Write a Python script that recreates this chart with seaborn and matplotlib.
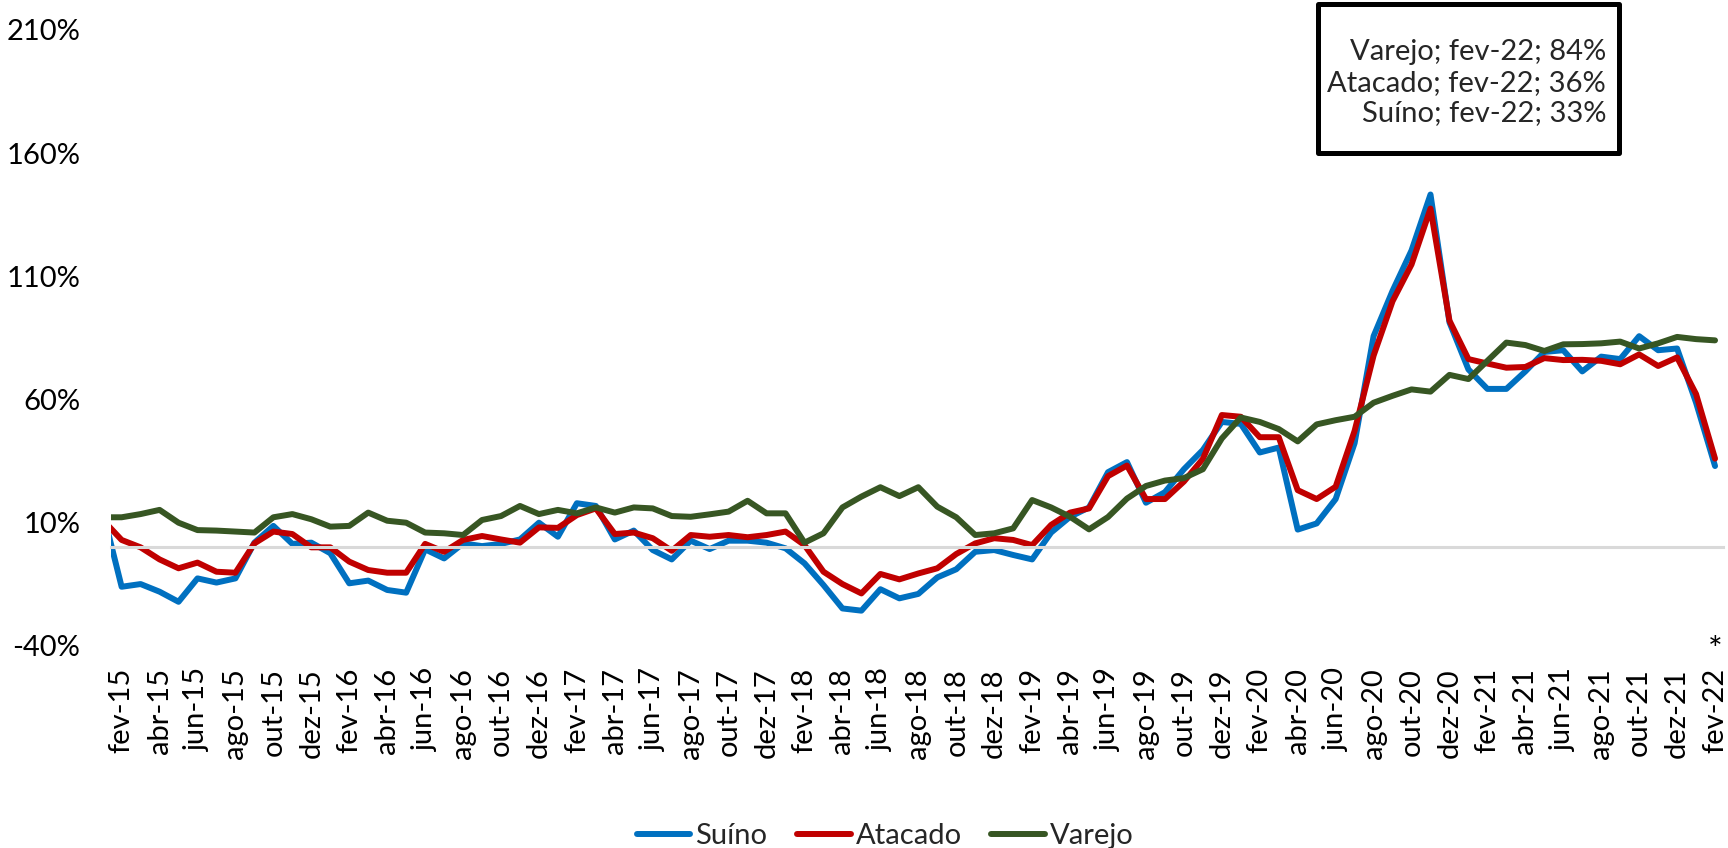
import matplotlib
matplotlib.use("Agg")
import matplotlib.pyplot as plt
import matplotlib.patches as mpatches
import seaborn as sns
import pandas as pd
import numpy as np

# meses de jan-15 a fev-22 (jan-15 fica cortado na borda esquerda, como no original)
meses = ["jan", "fev", "mar", "abr", "mai", "jun", "jul", "ago", "set", "out", "nov", "dez"]
anos = [15, 16, 17, 18, 19, 20, 21, 22]
periodos = [f"{m}-{a}" for a in anos for m in meses][:86]

suino = [14.9, -16.0, -14.9, -18.0, -22.1, -12.6, -14.3, -12.6, 1.9, 8.7, 1.4, 1.9, -2.4,
         -14.6, -13.5, -17.3, -18.4, -0.8, -4.5, 1.6, 0.5, 1.4, 3.2, 10.0, 4.3,
         17.9, 16.8, 3.2, 6.8, -1.1, -4.9, 2.7, -0.7, 2.7, 2.7, 1.9, -0.4,
         -6.5, -15.3, -24.8, -25.7, -17.0, -20.7, -18.9, -12.2, -8.9, -1.8, -1.1, -3.1,
         -4.9, 6.0, 12.4, 16.2, 30.5, 34.6, 18.1, 22.4, 31.7, 39.5, 50.9, 50.1,
         38.5, 40.5, 7.2, 9.7, 19.6, 42.3, 85.7, 104.1, 120.5, 143.2, 91.3, 72.2,
         64.3, 64.3, 71.4, 79.3, 80.0, 71.4, 77.4, 76.4, 85.7, 80.0, 80.7, 58.7,
         33.0]
atacado = [11.2, 3.0, 0.0, -4.9, -8.5, -6.2, -9.9, -10.3, 1.6, 6.4, 5.4, 0.0, 0.0,
           -5.8, -9.2, -10.3, -10.3, 1.4, -1.8, 3.0, 4.6, 3.2, 1.9, 8.1, 7.9,
           13.1, 15.8, 5.4, 6.0, 3.7, -1.4, 5.0, 4.3, 5.0, 4.1, 5.0, 6.4,
           0.9, -9.9, -14.9, -18.7, -10.8, -13.0, -10.6, -8.5, -2.7, 1.6, 3.7, 3.0,
           0.9, 9.1, 14.1, 15.8, 28.9, 33.2, 19.6, 19.6, 26.7, 35.9, 53.7, 53.0,
           44.7, 44.7, 23.2, 19.6, 24.6, 47.3, 77.8, 99.9, 114.8, 137.5, 92.0, 76.4,
           74.6, 72.9, 73.2, 76.8, 76.0, 76.1, 75.7, 74.3, 78.3, 73.6, 77.1, 62.2,
           36.0]
varejo = [12.2, 12.2, 13.5, 15.2, 10.0, 7.0, 6.8, 6.4, 6.0, 12.2, 13.5, 11.4, 8.4,
          8.7, 14.1, 10.8, 10.0, 6.0, 5.7, 5.0, 11.1, 12.7, 16.8, 13.5, 15.2,
          13.8, 16.2, 14.1, 16.2, 15.8, 12.7, 12.4, 13.4, 14.5, 18.9, 13.8, 13.8,
          1.9, 5.7, 16.2, 20.6, 24.4, 20.8, 24.4, 16.5, 12.2, 5.0, 5.7, 7.7,
          19.2, 16.2, 12.4, 7.3, 12.3, 19.8, 24.9, 27.1, 28.1, 31.7, 44.2, 52.7,
          50.9, 48.0, 43.0, 49.9, 51.6, 53.0, 58.7, 61.5, 64.1, 63.2, 70.0, 68.3,
          75.7, 83.1, 82.1, 79.7, 82.4, 82.5, 82.8, 83.5, 80.7, 82.8, 85.4, 84.5,
          84.0]

series = ["Suíno", "Atacado", "Varejo"]
cores = {"Suíno": "#0070C0", "Atacado": "#C00000", "Varejo": "#375623"}
y_ticks = [-40, 10, 60, 110, 160, 210]

pos = np.arange(len(periodos))
df = pd.DataFrame({
    "pos": np.tile(pos, 3),
    "periodo": periodos * 3,
    "valor": suino + atacado + varejo,
    "serie": np.repeat(series, len(periodos)),
})

sns.set_style("white")
plt.rcParams["font.family"] = ["Lato", "DejaVu Sans"]
FS = 21

fig = plt.figure(figsize=(17.28, 8.48), dpi=100)
ax = fig.add_axes([111 / 1728, 1 - 645.9 / 848, (1723 - 111) / 1728, 616 / 848])

sns.lineplot(data=df, x="pos", y="valor", hue="serie", hue_order=series,
             palette=cores, estimator=None, linewidth=4.3, ax=ax, legend=True)
for ln in ax.lines:
    ln.set_solid_capstyle("round")
    ln.set_solid_joinstyle("round")

ax.set_xlim(0.44, 85.42)
ax.set_ylim(-40, 210)
ax.set_xlabel("")
ax.set_ylabel("")

# eixo horizontal cruzando em 0
for s in ["left", "right", "top"]:
    ax.spines[s].set_visible(False)
ax.spines["bottom"].set_position(("data", 0))
ax.spines["bottom"].set_color("#D9D9D9")
ax.spines["bottom"].set_linewidth(2.2)

rotulos_pos = pos[1::2]
ax.set_xticks(rotulos_pos - 0.5)
ax.tick_params(axis="x", which="major", length=7.5, width=2.2, color="#D9D9D9",
               direction="out", labelbottom=False)
for p in rotulos_pos:
    ax.text(p, -0.036, periodos[p], transform=ax.get_xaxis_transform(),
            rotation=90, ha="center", va="top", fontsize=FS, color="black")
ax.text(rotulos_pos[-1], -0.034, "*", transform=ax.get_xaxis_transform(),
        ha="center", va="bottom", fontsize=FS + 4, color="black")

ax.set_yticks(y_ticks)
ax.set_yticklabels([f"{v}%" for v in y_ticks], fontsize=FS, color="black")
ax.tick_params(axis="y", length=0, pad=22)

# legenda embaixo
handles, labels = ax.get_legend_handles_labels()
ax.get_legend().remove()
for h in handles:
    h.set_solid_capstyle("round")
fig.legend(handles, labels, loc="center", bbox_to_anchor=(885 / 1728, 1 - 836 / 848),
           ncol=3, frameon=False, fontsize=FS, handlelength=1.85, handletextpad=0.17,
           columnspacing=1.0)

# caixa com os últimos valores
ult = periodos[-1]
texto = "\n".join([
    f"Varejo; {ult}; {varejo[-1]:.0f}%",
    f"Atacado; {ult}; {atacado[-1]:.0f}%",
    f"Suíno; {ult}; {suino[-1]:.0f}%",
])
caixa = mpatches.Rectangle((1317.5 / 1728, 1 - 152.5 / 848), 301 / 1728, 148.3 / 848,
                           transform=fig.transFigure, facecolor="white", edgecolor="black",
                           linewidth=3.6, joinstyle="round", zorder=5)
fig.patches.append(caixa)
fig.text(1606 / 1728, 1 - 82.7 / 848, texto, ha="right", va="center",
         multialignment="right", fontsize=FS, linespacing=1.22, zorder=6)

fig.savefig("out.png", dpi=100)
